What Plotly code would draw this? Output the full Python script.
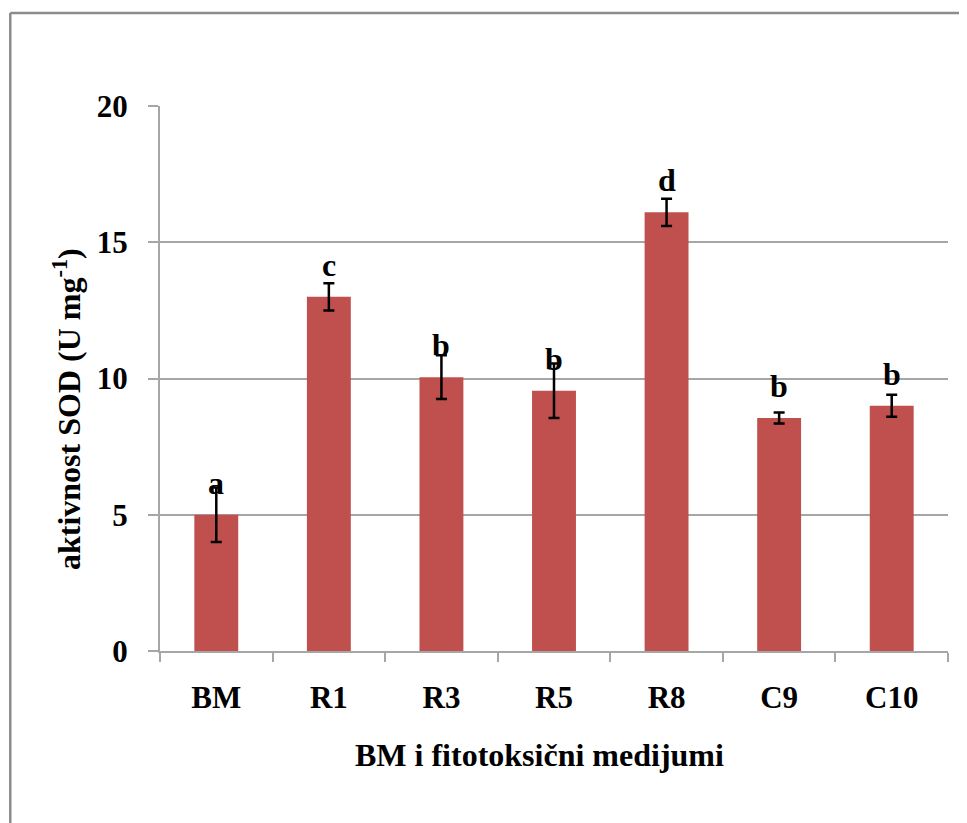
import plotly.graph_objects as go

categories = ["BM", "R1", "R3", "R5", "R8", "C9", "C10"]
values = [5.0, 13.0, 10.05, 9.55, 16.1, 8.55, 9.0]
errors = [1.0, 0.5, 0.8, 1.0, 0.5, 0.2, 0.4]
letters = ["a", "c", "b", "b", "d", "b", "b"]
y_ticks = [0, 5, 10, 15, 20]

FONT = "'Liberation Serif', 'Times New Roman', Times, serif"
BAR = "#C0504D"
GRID = "#A6A6A6"

fig = go.Figure()
fig.add_trace(go.Bar(
    x=categories, y=values, width=0.39,
    marker=dict(color=BAR, line=dict(width=0)),
    error_y=dict(type="data", array=errors, visible=True,
                 color="black", thickness=2.5, width=5.5),
    showlegend=False, hoverinfo="skip",
))

for c, v, l in zip(categories, values, letters):
    fig.add_annotation(x=c, y=v, text=l, showarrow=False,
                       yanchor="bottom", yshift=12,
                       font=dict(family=FONT, size=32, color="black", weight="bold"))

# axis titles
fig.add_annotation(xref="paper", yref="paper", x=0.482, y=-0.191,
                   text="BM i fitotoksični medijumi", showarrow=False,
                   xanchor="center", yanchor="middle",
                   font=dict(family=FONT, size=32, color="black", weight="bold"))
fig.add_annotation(xref="paper", yref="paper", x=-0.118, y=0.444,
                   text="aktivnost SOD (U mg<sup>-1</sup>)", showarrow=False,
                   textangle=-90, xanchor="center", yanchor="middle",
                   font=dict(family=FONT, size=32, color="black", weight="bold"))

fig.add_shape(type="line", xref="paper", yref="paper",
              x0=-0.19, x1=1.1, y0=1.1706, y1=1.1706,
              line=dict(color="#8C8C8C", width=2.5))
fig.add_shape(type="line", xref="paper", yref="paper",
              x0=-0.19, x1=-0.19, y0=1.1706, y1=-0.4,
              line=dict(color="#8C8C8C", width=2.5))

fig.update_layout(
    width=967, height=823,
    margin=dict(l=152, r=27, t=98, b=180),
    paper_bgcolor="white", plot_bgcolor="white",
    font=dict(family=FONT, color="black"),
    bargap=0.61,
)
fig.update_xaxes(
    type="category", showline=True, linecolor=GRID, linewidth=2,
    ticks="outside", tickson="boundaries", ticklen=9, tickcolor=GRID, tickwidth=1.5,
    tickfont=dict(family=FONT, size=31, weight="bold"),
    ticklabelstandoff=18,
    showgrid=False,
)
fig.update_yaxes(
    range=[0, 20], tickvals=y_ticks, showline=True, linecolor=GRID, linewidth=2,
    ticks="outside", ticklen=10, tickcolor=GRID, tickwidth=1.5,
    showgrid=True, gridcolor=GRID, gridwidth=1.5, zeroline=False,
    tickfont=dict(family=FONT, size=31, weight="bold"),
    ticklabelstandoff=14,
)

fig.write_html("out.html")
